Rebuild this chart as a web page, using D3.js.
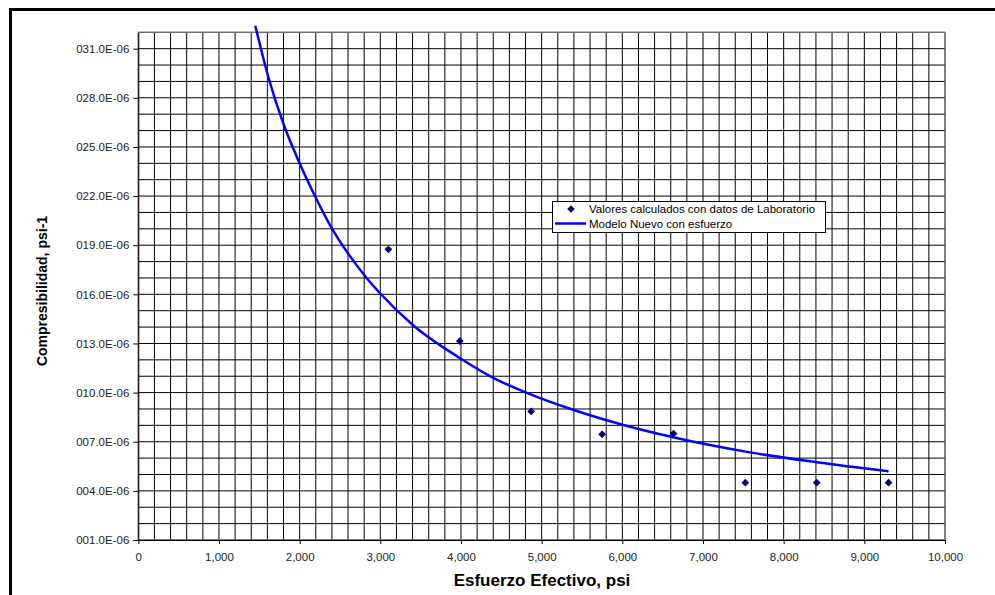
<!DOCTYPE html>
<html>
<head>
<meta charset="utf-8">
<script src="https://cdn.jsdelivr.net/npm/d3@7"></script>
<style>
  body { margin: 0; background: #fff; }
  svg { display: block; font-family: Arial, "Liberation Sans", sans-serif; }
</style>
</head>
<body>
<script>
// laboratory values (diamonds)
let labEsfuerzo = [3100, 3985, 4870, 5750, 6635, 7525, 8410, 9300];
let labComp = [18.75e-6, 13.15e-6, 8.85e-6, 7.45e-6, 7.5e-6, 4.5e-6, 4.5e-6, 4.5e-6];

// model curve
let modelEsfuerzo = [1450, 1610, 1800, 2000, 2200, 2380, 2600, 2830, 3000, 3410, 3990, 4400, 4810, 5390, 5970, 6630, 7580, 8410, 9300];
let modelComp = [32.4e-6, 29.3e-6, 26.4e-6, 24.0e-6, 21.9e-6, 20.2e-6, 18.5e-6, 17.0e-6, 16.05e-6, 14.1e-6, 12.1e-6, 10.9e-6, 10.0e-6, 8.95e-6, 8.08e-6, 7.27e-6, 6.35e-6, 5.75e-6, 5.2e-6];

let xTicks = [0, 1000, 2000, 3000, 4000, 5000, 6000, 7000, 8000, 9000, 10000];
let yTicks = [1e-6, 4e-6, 7e-6, 10e-6, 13e-6, 16e-6, 19e-6, 22e-6, 25e-6, 28e-6, 31e-6];

let legendNames = ["Valores calculados con datos de Laboratorio", "Modelo Nuevo con esfuerzo"];

(function() {
  let svg = d3.select("body").append("svg")
    .attr("width", 995)
    .attr("height", 595);

  // outer chart border
  svg.append("rect")
    .attr("x", 10.5).attr("y", 9.5)
    .attr("width", 1000).attr("height", 600)
    .attr("fill", "#fff")
    .attr("stroke", "#000")
    .attr("stroke-width", 3);

  let xScale = d3.scaleLinear().domain([0, 10000]).range([138.3, 945]);
  let yScale = d3.scaleLinear().domain([1e-6, 32e-6]).range([540, 32.3]);

  // grid lines
  let grid = svg.append("g");
  grid.selectAll(".hgrid")
    .data(d3.range(1, 33).map((d) => d * 1e-6))
    .enter().append("line")
      .attr("x1", xScale(0)).attr("x2", xScale(10000))
      .attr("y1", (d) => yScale(d)).attr("y2", (d) => yScale(d))
      .attr("stroke", "#000").attr("stroke-width", 1);
  grid.selectAll(".vgrid")
    .data(d3.range(0, 10001, 200))
    .enter().append("line")
      .attr("x1", (d) => xScale(d)).attr("x2", (d) => xScale(d))
      .attr("y1", yScale(32e-6)).attr("y2", yScale(1e-6))
      .attr("stroke", "#000").attr("stroke-width", 1);

  // plot area frame
  svg.append("rect")
    .attr("x", xScale(0)).attr("y", yScale(32e-6))
    .attr("width", xScale(10000) - xScale(0))
    .attr("height", yScale(1e-6) - yScale(32e-6))
    .attr("fill", "none")
    .attr("stroke", "#808080");

  // axes
  let xAxis = d3.axisBottom(xScale)
    .tickValues(xTicks)
    .tickFormat(d3.format(","))
    .tickSizeInner(4).tickSizeOuter(0);
  let gx = svg.append("g")
    .attr("transform", "translate(0," + yScale(1e-6) + ")")
    .call(xAxis);
  gx.selectAll("text")
    .attr("dy", "1.25em")
    .style("font-size", "11.5px")
    .attr("fill", "#222");

  let yAxis = d3.axisLeft(yScale)
    .tickValues(yTicks)
    .tickFormat((d) => d3.format("05.1f")(d * 1e6) + "E-06")
    .tickSizeInner(5).tickSizeOuter(0);
  let gy = svg.append("g")
    .attr("transform", "translate(" + xScale(0) + ",0)")
    .call(yAxis);
  gy.selectAll("text")
    .attr("x", -9)
    .style("font-size", "11.5px")
    .attr("fill", "#222");

  svg.selectAll(".domain, .tick line").attr("stroke", "#000");

  // model curve
  let line = d3.line()
    .x((d, i) => xScale(modelEsfuerzo[i]))
    .y((d, i) => yScale(modelComp[i]))
    .curve(d3.curveMonotoneX);
  svg.append("path")
    .datum(modelComp)
    .attr("fill", "none")
    .attr("stroke", "#0000ff")
    .attr("stroke-width", 2.5)
    .attr("d", line);

  // lab points
  let diamond = d3.symbol().type(d3.symbolSquare).size(30);
  svg.selectAll(".dot")
    .data(labComp)
    .enter().append("path")
      .attr("d", diamond)
      .attr("transform", (d, i) => "translate(" + xScale(labEsfuerzo[i]) + "," + yScale(d) + ")rotate(45)")
      .attr("fill", "#000080");

  // legend
  let lg = svg.append("g");
  lg.append("rect")
    .attr("x", 552.5).attr("y", 201.5)
    .attr("width", 273).attr("height", 31)
    .attr("fill", "#fff").attr("stroke", "#000");
  lg.append("path")
    .attr("d", diamond)
    .attr("transform", "translate(571,209)rotate(45)")
    .attr("fill", "#000080");
  lg.append("line")
    .attr("x1", 555).attr("x2", 586)
    .attr("y1", 223.5).attr("y2", 223.5)
    .attr("stroke", "#0000ff").attr("stroke-width", 2.5);
  lg.selectAll(".ltext")
    .data(legendNames)
    .enter().append("text")
      .attr("x", 589)
      .attr("y", (d, i) => 209 + i * 15)
      .attr("dy", "0.35em")
      .style("font-size", "11.5px")
      .text((d) => d);

  // axis titles
  svg.append("text")
    .attr("x", 542).attr("y", 586)
    .attr("text-anchor", "middle")
    .style("font-size", "17px")
    .style("font-weight", "bold")
    .text("Esfuerzo Efectivo, psi");

  svg.append("text")
    .attr("transform", "translate(47,291)rotate(-90)")
    .attr("text-anchor", "middle")
    .style("font-size", "14px")
    .style("font-weight", "bold")
    .text("Compresibilidad, psi-1");
})();
</script>
</body>
</html>
